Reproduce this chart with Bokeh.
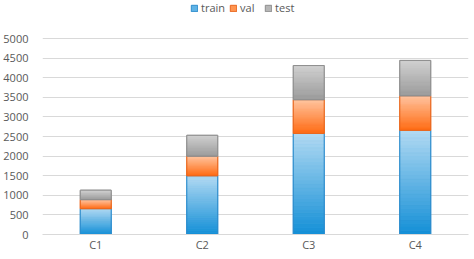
import numpy as np
from bokeh.plotting import figure
from bokeh.models import (FactorRange, Range1d, Legend, LegendItem,
                          ColumnDataSource, FixedTicker)
from bokeh.embed import file_html
from bokeh.resources import INLINE

# ---- data -------------------------------------------------------------
categories = ["C1", "C2", "C3", "C4"]
series = ["train", "val", "test"]
train = [660, 1500, 2580, 2660]
val = [230, 500, 860, 880]
test = [240, 530, 870, 900]
y_ticks = [0, 500, 1000, 1500, 2000, 2500, 3000, 3500, 4000, 4500, 5000]

# ---- styling ----------------------------------------------------------
# (top colour, bottom colour, mid colour, outline colour) per series
palette = {
    "train": ("#b3daf3", "#138fd6", "#5fb3e6", "#2d8ccc"),
    "val":   ("#ffc6a2", "#ff6a12", "#ff944f", "#e8671f"),
    "test":  ("#d2d2d2", "#9a9a9a", "#b6b6b6", "#8e8e8e"),
}
BAR_W = 0.29
FONT = "Open Sans"
TEXT = "#595959"
GRID = "#d9d9d9"


def hex_rgb(h):
    h = h.lstrip("#")
    return np.array([int(h[i:i + 2], 16) for i in (0, 2, 4)], dtype=float)


def mix(c_bottom, c_top, t):
    a, b = hex_rgb(c_bottom), hex_rgb(c_top)
    r = a + (b - a) * t
    return "#%02x%02x%02x" % tuple(int(round(v)) for v in r)


# the value axis tops out at 5000; extra headroom above holds the legend
y_top = y_ticks[-1] * (1 + 38 / 196)

p = figure(width=474, height=259,
           x_range=FactorRange(*categories, range_padding=0),
           y_range=Range1d(0, y_top),
           output_backend="svg", toolbar_location=None,
           min_border_left=36, min_border_right=6,
           min_border_top=0, min_border_bottom=25)
p.outline_line_color = None
p.background_fill_color = "white"
p.border_fill_color = "white"

values = {"train": train, "val": val, "test": test}
bottoms = np.zeros(len(categories))
legend_items = []
N = 28
for name in series:
    vals = np.array(values[name], dtype=float)
    tops = bottoms + vals
    c_top, c_bot, c_mid, c_line = palette[name]

    # base segment (solid), also used as the legend swatch
    base = p.vbar(x=categories, width=BAR_W, bottom=bottoms, top=tops,
                  fill_color=c_mid, line_color=c_line, line_width=1)
    legend_items.append(LegendItem(label=name, renderers=[base]))

    # vertical gradient: thin strips from dark (bottom) to light (top)
    xs, b0, b1, cols = [], [], [], []
    for cat, lo, hi in zip(categories, bottoms, tops):
        for k in range(N):
            xs.append(cat)
            b0.append(lo + (hi - lo) * k / N)
            b1.append(lo + (hi - lo) * (k + 1) / N)
            cols.append(mix(c_bot, c_top, (k + 0.5) / N))
    src = ColumnDataSource(dict(x=xs, bottom=b0, top=b1, color=cols))
    p.vbar(x="x", width=BAR_W, bottom="bottom", top="top", source=src,
           fill_color="color", line_color="color", line_width=0.5)

    # outline on top of the gradient
    p.vbar(x=categories, width=BAR_W, bottom=bottoms, top=tops,
           fill_alpha=0, line_color=c_line, line_width=1)
    bottoms = tops

# ---- axes & grid -----------------------------------------------------
p.yaxis.ticker = FixedTicker(ticks=y_ticks)
p.yaxis.axis_line_color = None
p.yaxis.major_tick_line_color = None
p.yaxis.minor_tick_line_color = None
p.yaxis.major_label_standoff = 8
p.yaxis.major_label_text_font = FONT
p.yaxis.major_label_text_font_size = "11px"
p.yaxis.major_label_text_color = TEXT

p.xaxis.axis_line_color = GRID
p.xaxis.major_tick_line_color = None
p.xaxis.minor_tick_line_color = None
p.xaxis.major_tick_out = 0
p.xaxis.major_tick_in = 0
p.xaxis.major_label_standoff = 2
p.xaxis.major_label_text_font = FONT
p.xaxis.major_label_text_font_size = "11px"
p.xaxis.major_label_text_color = TEXT

p.xgrid.grid_line_color = None
p.ygrid.grid_line_color = GRID
p.ygrid.grid_line_width = 1

# ---- legend ----------------------------------------------------------
legend = Legend(items=legend_items, orientation="horizontal",
                location=(148, 219), padding=0, margin=0,
                border_line_color=None, background_fill_alpha=0,
                glyph_width=8, glyph_height=8, label_standoff=3,
                spacing=4, label_height=12,
                label_text_font=FONT, label_text_font_size="11px",
                label_text_color=TEXT)
p.add_layout(legend)

open("out.html", "w").write(file_html(p, INLINE))
